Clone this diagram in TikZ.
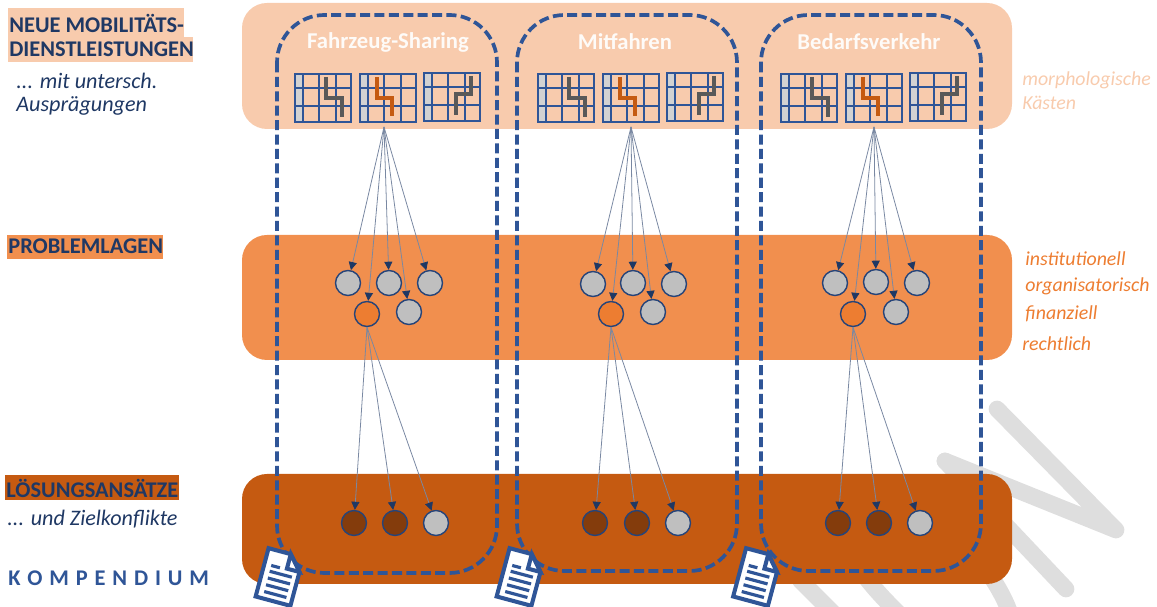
\documentclass[tikz,border=0pt]{standalone}
\usepackage{fontspec}
\setmainfont{Carlito}
\usetikzlibrary{arrows.meta}
\definecolor{mbBlue}{RGB}{47,85,151}
\definecolor{mbNavy}{RGB}{31,56,100}
\definecolor{mbPeach}{RGB}{248,203,173}
\definecolor{mbOrange}{RGB}{241,143,78}
\definecolor{mbRust}{RGB}{197,90,17}
\definecolor{mbDark}{RGB}{132,60,12}
\definecolor{mbDot}{RGB}{237,125,49}
\definecolor{mbGray}{RGB}{191,191,191}
\definecolor{mbMark}{RGB}{222,222,222}
\definecolor{mbPath}{RGB}{89,89,89}
\tikzset{
  band/.style={rounded corners=0.5cm},
  svcframe/.style={draw=mbBlue, line width=2.1pt, dash pattern=on 5.7pt off 2.5pt, rounded corners=0.95cm},
  wmark/.style={draw=mbMark, line width=9.5pt, line cap=round, line join=round},
  dot/.style={circle, draw=mbBlue!80!black, line width=0.8pt, minimum size=0.5cm, inner sep=0pt, fill=mbGray},
  link/.style={draw=mbNavy!60!white, line width=0.45pt, -{Triangle[length=4.6pt,width=4.6pt,color=mbNavy]}},
  headtext/.style={font=\bfseries\fontsize{12.75}{14}\selectfont, text=mbNavy, inner sep=0pt, anchor=west},
  notetext/.style={font=\itshape\fontsize{12.6}{14}\selectfont, text=mbNavy, inner sep=0pt, anchor=west},
  sidetext/.style={font=\itshape\fontsize{11.3}{13}\selectfont, text=mbDot, inner sep=0pt, anchor=west},
  svctitle/.style={font=\bfseries\fontsize{12.9}{14}\selectfont, text=white!92!mbPeach, inner sep=0pt},
  docicon/.pic={
    \draw[mbBlue, line width=2.3pt, fill=white, line join=miter] (-18,-25) -- (5,-25) -- (18,-10) -- (18,25) -- (-18,25) -- cycle;
    \draw[mbBlue, line width=2.3pt, fill=white] (5,-25) -- (5,-10) -- (18,-10) -- cycle;
    \draw[mbBlue, line width=1.8pt] (-11,-9) -- (-2,-9);
    \foreach \ly in {-3,4,11,18} \draw[mbBlue, line width=1.8pt] (-11,\ly) -- (12,\ly);
  }
}
% x y = upper left corner, then path colour and its points
\newcommand{\morphbox}[4]{
  \begin{scope}[shift={(#1,#2)}]
    \fill[mbGray!70!white] (0,0) rectangle (8,48);
    \draw[mbBlue, line width=0.8pt] (0,0) rectangle (56,48);
    \foreach \gx in {8,24,41} \draw[mbBlue, line width=0.8pt] (\gx,0) -- (\gx,48);
    \foreach \gy in {14,32} \draw[mbBlue, line width=0.8pt] (0,\gy) -- (56,\gy);
    \draw[#3, line width=2.1pt] #4;
  \end{scope}
}
\newcommand{\morphrow}[1]{
  \morphbox{#1}{74}{mbPath}{(31,3) -- (31,24) -- (47,24) -- (47,43)}
  \morphbox{#1+65}{74}{mbRust}{(17,3) -- (17,24) -- (32,24) -- (32,42)}
  \morphbox{#1+129}{73}{mbPath}{(47,3) -- (47,21) -- (32,21) -- (32,42)}
}
\begin{document}
\begin{tikzpicture}[x=0.02cm, y=-0.02cm]
  \useasboundingbox (0,0) rectangle (1157,607);

  % Watermark
  \draw[wmark] (997,409) -- (1116,530) -- (945,461);
  \draw[wmark] (945,461) -- (1066,589);
  \draw[wmark] (800,580) -- (840,620);
  \draw[wmark] (860,570) .. controls (875,590) and (885,600) .. (905,620);
  \draw[wmark] (990,575) .. controls (1000,590) and (1008,605) .. (1012,620);

  % Bands
  \fill[band, mbPeach] (242,3) rectangle (1012,129);
  \fill[band, mbOrange] (242,235) rectangle (1012,360);
  \fill[band, mbRust] (242,474) rectangle (1012,584);

  % Left labels
  \fill[mbPeach] (8,8) rectangle (184,37);
  \fill[mbPeach] (8,37) rectangle (193,62);
  \node[headtext] (headMobA) at (9,23) {NEUE MOBILITÄTS-};
  \node[headtext] (headMobB) at (9,49) {DIENSTLEISTUNGEN};
  \node[notetext] (noteMobA) at (16,81) {... mit untersch.};
  \node[notetext] (noteMobB) at (16,106) {Ausprägungen};
  \fill[mbOrange] (7,235) rectangle (163,259);
  \node[headtext] (headProb) at (8,246) {PROBLEMLAGEN};
  \fill[mbRust] (5,475) rectangle (179,500);
  \node[headtext] (headLoes) at (6,488) {LÖSUNGSANSÄTZE};
  \node[notetext] (noteLoes) at (7,519) {... und Zielkonflikte};
  \node[headtext, text=mbBlue] (headKomp) at (8,578) {\spaceskip=3.9pt K O M P E N D I U M};

  % Right labels
  \node[sidetext, text=mbPeach] (sideMorphA) at (1022,80) {morphologische};
  \node[sidetext, text=mbPeach] (sideMorphB) at (1022,103) {Kästen};
  \node[sidetext] (sideInst) at (1025,259) {institutionell};
  \node[sidetext] (sideOrga) at (1025,286) {organisatorisch};
  \node[sidetext] (sideFina) at (1025,314) {finanziell};
  \node[sidetext] (sideRech) at (1022,344) {rechtlich};

  % Service frames
  \draw[svcframe] (277,15) rectangle (497,573);
  \draw[svcframe] (517,15) rectangle (737,571);
  \draw[svcframe] (761,15) rectangle (981,571);
  \node[svctitle] (titleFahr) at (388,42) {Fahrzeug-Sharing};
  \node[svctitle] (titleMitf) at (625,42) {Mitfahren};
  \node[svctitle] (titleBeda) at (869,42) {Bedarfsverkehr};

  % Morphological boxes
  \morphrow{295}
  \morphrow{538}
  \morphrow{781}

  % Problem and solution dots
  \coordinate (srcA) at (384,127);
  \coordinate (srcB) at (631,127);
  \coordinate (srcC) at (874,127);

  \node[dot] (pA1) at (348,283) {};
  \node[dot] (pA2) at (389,283) {};
  \node[dot] (pA3) at (430,283) {};
  \node[dot] (pA4) at (409,312) {};
  \node[dot, fill=mbDot] (pA5) at (367,314) {};
  \node[dot] (pB1) at (593,284) {};
  \node[dot] (pB2) at (633,283) {};
  \node[dot] (pB3) at (674,284) {};
  \node[dot] (pB4) at (653,312) {};
  \node[dot, fill=mbDot] (pB5) at (611,314) {};
  \node[dot] (pC1) at (835,283) {};
  \node[dot] (pC2) at (876,282) {};
  \node[dot] (pC3) at (917,283) {};
  \node[dot] (pC4) at (896,312) {};
  \node[dot, fill=mbDot] (pC5) at (853,314) {};

  \node[dot, fill=mbDark] (lA1) at (354,523) {};
  \node[dot, fill=mbDark] (lA2) at (395,523) {};
  \node[dot] (lA3) at (436,523) {};
  \node[dot, fill=mbDark] (lB1) at (595,523) {};
  \node[dot, fill=mbDark] (lB2) at (637,523) {};
  \node[dot] (lB3) at (678,523) {};
  \node[dot, fill=mbDark] (lC1) at (838,523) {};
  \node[dot, fill=mbDark] (lC2) at (879,523) {};
  \node[dot] (lC3) at (920,523) {};

  % Arrows
  \foreach \col in {A,B,C} {
    \foreach \i in {1,...,5} \draw[link] (src\col) -- (p\col\i);
    \foreach \i in {1,2,3} \draw[link] (p\col5.south) -- (l\col\i);
  }

  % Documents
  \pic[rotate=-15] at (279.5,577) {docicon};
  \pic[rotate=-15] at (520.5,577) {docicon};
  \pic[rotate=-15] at (757,577) {docicon};
\end{tikzpicture}
\end{document}
